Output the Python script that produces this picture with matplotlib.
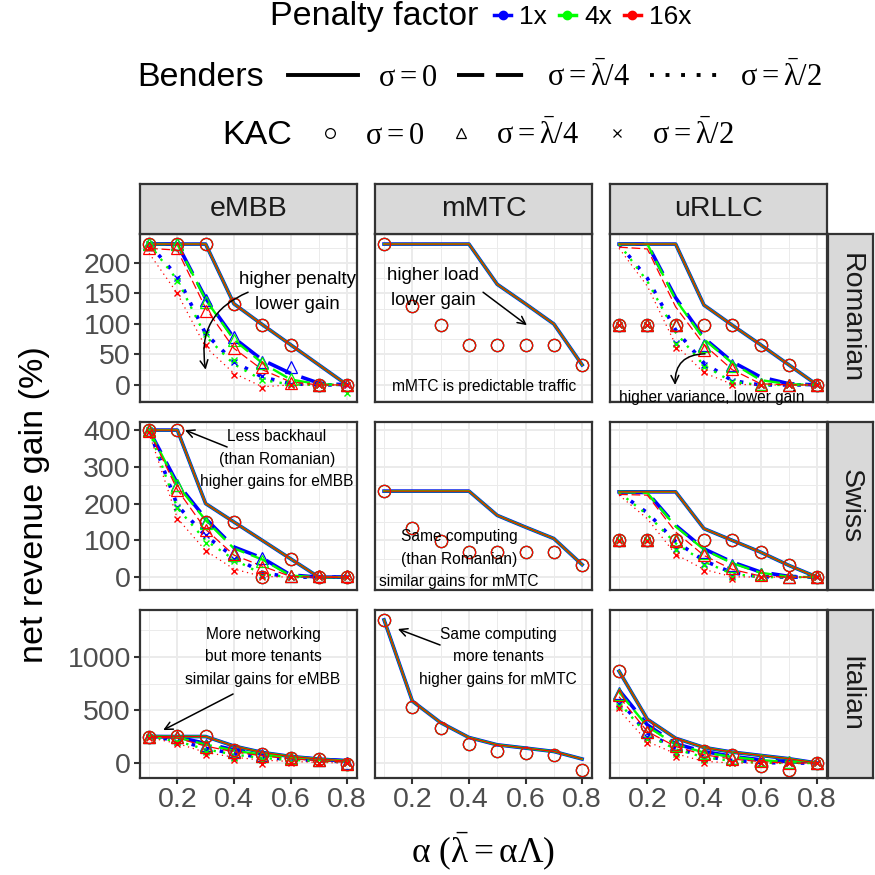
import matplotlib
matplotlib.use("Agg")
import matplotlib.pyplot as plt
from matplotlib.lines import Line2D

plt.rcParams['font.family'] = ['Liberation Sans', 'DejaVu Sans']
# upright serif math, like R plotmath
plt.rcParams['mathtext.fontset'] = 'custom'
plt.rcParams['mathtext.rm'] = 'Liberation Serif'
plt.rcParams['mathtext.it'] = 'Liberation Serif'
plt.rcParams['mathtext.bf'] = 'Liberation Serif:bold'

W, H, DPI = 875, 875, 100

# ------------------------------------------------------------------------
# Data
# ------------------------------------------------------------------------
ALPHA = [0.1, 0.2, 0.3, 0.4, 0.5, 0.6, 0.7, 0.8]
REGIONS = ['Romanian', 'Swiss', 'Italian']
SLICES = ['eMBB', 'mMTC', 'uRLLC']
PENALTIES = ['1x', '4x', '16x']

# sigma = 0 curves coincide for all penalty factors
# sigma > 0 curves: one row per penalty factor (1x, 4x, 16x)

# --- Romanian ---
ROM_EMBB_BEN0 = [231, 231, 231, 133, 99, 66, 33, 0]
ROM_EMBB_KAC0 = [231, 231, 231, 133, 99, 66, 0, 0]
ROM_EMBB_BEN4 = [[231, 231, 142, 77, 41, 19, 3, 0],
                 [231, 231, 140, 74, 36, 9, 1, 0],
                 [224, 221, 126, 60, 25, 5, 0, 0]]
ROM_EMBB_BEN2 = [[231, 178, 84, 38, 13, 2, 0, 0],
                 [231, 172, 80, 34, 8, 1, 0, 0],
                 [216, 150, 62, 19, -3, 0, 0, 0]]
ROM_EMBB_KAC4 = [[231, 231, 139, 78, 38, 29, 0, 0],
                 [231, 231, 136, 74, 36, 10, 0, 0],
                 [224, 224, 121, 61, 30, 3, 0, 0]]
ROM_EMBB_KAC2 = [[231, 176, 87, 38, 15, 1, 0, 0],
                 [231, 170, 84, 41, 8, 0, 0, -13],
                 [224, 151, 66, 16, -5, 0, 0, 0]]

ROM_MMTC_BEN0 = [231, 231, 231, 231, 165, 133, 100, 33]
ROM_MMTC_KAC0 = [231, 130, 99, 66, 66, 66, 66, 33]

ROM_URLLC_BEN0 = [231, 231, 231, 131, 98, 66, 33, 0]
ROM_URLLC_KAC0 = [98, 98, 98, 98, 98, 66, 33, 0]
ROM_URLLC_BEN4 = [[231, 231, 143, 77, 38, 13, 2, 0],
                  [231, 231, 140, 75, 36, 8, 1, 0],
                  [226, 223, 128, 66, 25, 2, 0, 0]]
ROM_URLLC_BEN2 = [[231, 175, 90, 36, 7, 0, 0, 0],
                  [231, 170, 86, 32, 5, 0, 0, 0],
                  [224, 162, 66, 20, 1, 0, 0, 0]]
ROM_URLLC_KAC4 = [[98, 98, 98, 66, 33, 2, 0, 0],
                  [98, 98, 98, 64, 31, 1, 0, 0],
                  [98, 98, 98, 58, 26, 0, 0, 0]]
ROM_URLLC_KAC2 = [[98, 98, 69, 33, 6, 0, 0, 0],
                  [98, 98, 67, 30, 5, 0, 0, 0],
                  [98, 98, 60, 22, 0, 0, 0, 0]]

# --- Swiss ---
SWI_EMBB_BEN0 = [400, 400, 200, 150, 100, 50, 0, 0]
SWI_EMBB_KAC0 = [400, 400, 150, 150, 0, 50, 0, 0]
SWI_EMBB_BEN4 = [[400, 255, 159, 82, 52, 6, 0, 0],
                 [400, 250, 155, 78, 48, 4, 0, 0],
                 [398, 238, 130, 60, 30, 2, 0, 0]]
SWI_EMBB_BEN2 = [[400, 195, 112, 55, 12, 0, 0, 0],
                 [400, 188, 100, 48, 8, 0, 0, 0],
                 [392, 160, 72, 22, 2, 0, 0, 0]]
SWI_EMBB_KAC4 = [[400, 250, 150, 66, 52, 3, 3, 3],
                 [400, 250, 148, 60, 45, 3, 3, 3],
                 [398, 236, 127, 62, 27, 2, 4, 4]]
SWI_EMBB_KAC2 = [[400, 190, 115, 50, 5, 0, 0, 0],
                 [400, 188, 93, 45, 2, 0, 0, 0],
                 [395, 157, 70, 18, 0, 0, 0, 0]]

SWI_MMTC_BEN0 = [234, 234, 234, 234, 168, 136, 105, 34]
SWI_MMTC_KAC0 = [234, 134, 98, 68, 68, 68, 68, 34]

SWI_URLLC_BEN0 = [232, 232, 232, 132, 100, 68, 32, 0]
SWI_URLLC_KAC0 = [100, 100, 100, 100, 100, 68, 32, 0]
SWI_URLLC_BEN4 = [[232, 230, 141, 77, 41, 14, 2, 0],
                  [232, 229, 138, 75, 38, 12, 1, 0],
                  [225, 223, 123, 59, 21, 3, 0, 0]]
SWI_URLLC_BEN2 = [[230, 175, 97, 45, 12, 1, 0, 0],
                  [230, 170, 92, 42, 9, 0, 0, 0],
                  [223, 159, 62, 21, 1, 0, 0, 0]]
SWI_URLLC_KAC4 = [[100, 100, 100, 68, 32, 9, 0, 0],
                  [100, 100, 100, 66, 30, 8, 0, 0],
                  [100, 100, 97, 61, 25, 5, 0, 0]]
SWI_URLLC_KAC2 = [[100, 100, 77, 36, 2, 0, 0, 0],
                  [100, 100, 74, 33, 0, 0, 0, 0],
                  [97, 97, 59, 18, -4, 0, 0, 0]]

# --- Italian ---
ITA_EMBB_BEN0 = [250, 250, 250, 160, 100, 62, 38, 20]
ITA_EMBB_KAC0 = [250, 256, 256, 120, 90, 50, 35, -5]
ITA_EMBB_BEN4 = [[250, 245, 185, 125, 85, 55, 35, 22],
                 [250, 240, 175, 118, 78, 48, 30, 15],
                 [245, 235, 160, 105, 68, 40, 22, 8]]
ITA_EMBB_BEN2 = [[250, 215, 140, 88, 55, 35, 22, 12],
                 [250, 205, 130, 80, 48, 30, 18, 8],
                 [240, 185, 100, 55, 28, 15, 6, 0]]
ITA_EMBB_KAC4 = [[250, 250, 170, 112, 72, 50, 32, -3],
                 [250, 248, 165, 108, 68, 47, 30, -5],
                 [245, 245, 150, 100, 62, 42, 26, -6]]
ITA_EMBB_KAC2 = [[250, 200, 110, 55, 30, 10, 5, 0],
                 [250, 195, 105, 50, 25, 8, 3, 0],
                 [240, 181, 78, 25, -6, 0, 0, 0]]

ITA_MMTC_BEN0 = [1350, 584, 381, 241, 172, 141, 109, 38]
ITA_MMTC_KAC0 = [1350, 525, 328, 178, 116, 94, 72, -69]

ITA_URLLC_BEN0 = [866, 413, 234, 147, 103, 72, 41, 0]
ITA_URLLC_KAC0 = [866, 350, 181, 109, 72, -31, -69, 0]
ITA_URLLC_BEN4 = [[688, 360, 181, 109, 63, 31, 13, 0],
                  [670, 345, 175, 100, 58, 28, 10, 0],
                  [625, 297, 156, 78, 38, 13, 0, 0]]
ITA_URLLC_BEN2 = [[594, 281, 141, 63, 25, 5, 0, 0],
                  [570, 265, 130, 55, 20, 3, 0, 0],
                  [500, 203, 88, 16, 0, 0, 0, 0]]
ITA_URLLC_KAC4 = [[656, 305, 178, 98, 50, 26, 6, 0],
                  [650, 297, 172, 94, 47, 25, 6, 0],
                  [640, 290, 165, 88, 42, 20, 4, 0]]
ITA_URLLC_KAC2 = [[560, 250, 100, 35, 10, 0, 0, 0],
                  [540, 230, 85, 25, 5, 0, 0, 0],
                  [516, 188, 56, 5, 0, 0, 0, 0]]

# panel lookup: (ben0, kac0, ben4, ben2, kac4, kac2)
PANELS = {
    ('Romanian', 'eMBB'): (ROM_EMBB_BEN0, ROM_EMBB_KAC0, ROM_EMBB_BEN4, ROM_EMBB_BEN2, ROM_EMBB_KAC4, ROM_EMBB_KAC2),
    ('Romanian', 'mMTC'): (ROM_MMTC_BEN0, ROM_MMTC_KAC0, None, None, None, None),
    ('Romanian', 'uRLLC'): (ROM_URLLC_BEN0, ROM_URLLC_KAC0, ROM_URLLC_BEN4, ROM_URLLC_BEN2, ROM_URLLC_KAC4, ROM_URLLC_KAC2),
    ('Swiss', 'eMBB'): (SWI_EMBB_BEN0, SWI_EMBB_KAC0, SWI_EMBB_BEN4, SWI_EMBB_BEN2, SWI_EMBB_KAC4, SWI_EMBB_KAC2),
    ('Swiss', 'mMTC'): (SWI_MMTC_BEN0, SWI_MMTC_KAC0, None, None, None, None),
    ('Swiss', 'uRLLC'): (SWI_URLLC_BEN0, SWI_URLLC_KAC0, SWI_URLLC_BEN4, SWI_URLLC_BEN2, SWI_URLLC_KAC4, SWI_URLLC_KAC2),
    ('Italian', 'eMBB'): (ITA_EMBB_BEN0, ITA_EMBB_KAC0, ITA_EMBB_BEN4, ITA_EMBB_BEN2, ITA_EMBB_KAC4, ITA_EMBB_KAC2),
    ('Italian', 'mMTC'): (ITA_MMTC_BEN0, ITA_MMTC_KAC0, None, None, None, None),
    ('Italian', 'uRLLC'): (ITA_URLLC_BEN0, ITA_URLLC_KAC0, ITA_URLLC_BEN4, ITA_URLLC_BEN2, ITA_URLLC_KAC4, ITA_URLLC_KAC2),
}

# ------------------------------------------------------------------------
# Styling / layout
# ------------------------------------------------------------------------
PEN_COLORS = ['#0000FF', '#00FF00', '#FF0000']
PEN_LW = [2.6, 1.7, 0.9]
DASHED = (0, (7, 3))
DOTTED = (0, (1, 3))

Y_TICKS = {'Romanian': [0, 50, 100, 150, 200],
           'Swiss': [0, 100, 200, 300, 400],
           'Italian': [0, 500, 1000]}
Y_MINOR = {'Romanian': [-25, 25, 75, 125, 175, 225],
           'Swiss': [50, 150, 250, 350],
           'Italian': [250, 750, 1250]}
Y_LIM = {'Romanian': (-28, 247.5), 'Swiss': (-35, 422), 'Italian': (-141, 1443)}
X_LIM = (0.068, 0.835)

COL_LEFT = [140, 375, 610]
PANEL_W = 217
ROW_TOP = [234, 422, 610]
PANEL_H = 168
STRIP_TOP, STRIP_H = 184, 50
STRIP_LEFT, STRIP_W = 828, 45

BORDER = '#333333'
GRID = '#EBEBEB'
STRIP_FILL = '#D9D9D9'
TICK_TXT = '#4D4D4D'
TICK_FS = 20.5
STRIP_FS = 20.5
TITLE_FS = 24.5
NOTE_BIG = 13.4
NOTE_SMALL = 11.2
NOTE_SPACING = 1.63
LEG_FS = 22

# annotations: (region, slice) -> list of (text, x, y, size)
NOTES = {
    ('Romanian', 'eMBB'): [('higher penalty\nlower gain', 0.623, 152, NOTE_BIG)],
    ('Romanian', 'mMTC'): [('higher load\nlower gain', 0.273, 159, NOTE_BIG),
                           ('mMTC is predictable traffic', 0.453, -2, NOTE_SMALL)],
    ('Romanian', 'uRLLC'): [('higher variance, lower gain', 0.429, -20, NOTE_SMALL)],
    ('Swiss', 'eMBB'): [('Less backhaul\n(than Romanian)\nhigher gains for eMBB', 0.552, 321, NOTE_SMALL)],
    ('Swiss', 'mMTC'): [('Same computing\n(than Romanian)\nsimilar gains for mMTC', 0.365, 49, NOTE_SMALL)],
    ('Italian', 'eMBB'): [('More networking\nbut more tenants\nsimilar gains for eMBB', 0.503, 1000, NOTE_SMALL)],
    ('Italian', 'mMTC'): [('Same computing\nmore tenants\nhigher gains for mMTC', 0.503, 1000, NOTE_SMALL)],
}
# arrows: (region, slice) -> list of (x_from, y_from, x_to, y_to, rad)
ARROWS = {
    ('Romanian', 'eMBB'): [(0.45, 152, 0.30, 25, 0.4)],
    ('Romanian', 'mMTC'): [(0.45, 152, 0.605, 98, 0.0)],
    ('Romanian', 'uRLLC'): [(0.404, 51, 0.298, 0, 0.5)],
    ('Swiss', 'eMBB'): [(0.376, 354, 0.227, 400, 0.0)],
    ('Italian', 'eMBB'): [(0.397, 651, 0.15, 311, 0.0)],
    ('Italian', 'mMTC'): [(0.298, 1113, 0.149, 1264, 0.0)],
}


def box(left, top, width, height):
    return [left / W, 1 - (top + height) / H, width / W, height / H]


def draw_panel(ax, series):
    ben0, kac0, ben4, ben2, kac4, kac2 = series
    # Benders lines
    for i, c in enumerate(PEN_COLORS):
        ax.plot(ALPHA, ben0, color=c, lw=PEN_LW[i], ls='-')
        if ben4 is not None:
            ax.plot(ALPHA, ben4[i], color=c, lw=PEN_LW[i], ls=DASHED)
            ax.plot(ALPHA, ben2[i], color=c, lw=PEN_LW[i], ls=DOTTED)
    # KAC points
    for i, c in enumerate(PEN_COLORS):
        ax.plot(ALPHA, kac0, ls='none', marker='o', ms=8.8, mfc='none', mec=c, mew=0.9)
        if kac4 is not None:
            ax.plot(ALPHA, kac4[i], ls='none', marker='^', ms=9.0, mfc='none', mec=c, mew=0.9)
            ax.plot(ALPHA, kac2[i], ls='none', marker='x', ms=4.2, mec=c, mew=1.0)


fig = plt.figure(figsize=(W / DPI, H / DPI), dpi=DPI)

for r, region in enumerate(REGIONS):
    for c, sl in enumerate(SLICES):
        ax = fig.add_axes(box(COL_LEFT[c], ROW_TOP[r], PANEL_W, PANEL_H))
        draw_panel(ax, PANELS[(region, sl)])
        ax.set_xlim(*X_LIM)
        ax.set_ylim(*Y_LIM[region])
        ax.set_xticks([0.2, 0.4, 0.6, 0.8])
        ax.set_xticks([0.1, 0.3, 0.5, 0.7], minor=True)
        ax.set_yticks(Y_TICKS[region])
        ax.set_yticks(Y_MINOR[region], minor=True)
        ax.grid(which='major', color=GRID, lw=1.4)
        ax.grid(which='minor', color=GRID, lw=0.7)
        ax.set_axisbelow(True)
        for sp in ax.spines.values():
            sp.set_color(BORDER)
            sp.set_linewidth(1.6)
        ax.tick_params(which='minor', length=0)
        ax.tick_params(which='major', length=4.5, width=1.5, color=BORDER,
                       labelcolor=TICK_TXT, labelsize=TICK_FS, pad=2)
        if c > 0:
            ax.tick_params(axis='y', which='major', length=0, labelleft=False)
        if r < len(REGIONS) - 1:
            ax.tick_params(axis='x', which='major', length=0, labelbottom=False)

        for txt, tx, ty, fs in NOTES.get((region, sl), []):
            ax.text(tx, ty, txt, ha='center', va='center', fontsize=fs,
                    color='black', linespacing=NOTE_SPACING)
        for x0, y0, x1, y1, rad in ARROWS.get((region, sl), []):
            ax.annotate('', xy=(x1, y1), xytext=(x0, y0),
                        arrowprops=dict(arrowstyle='->', color='black', lw=1.1,
                                        mutation_scale=14, shrinkA=0, shrinkB=0,
                                        connectionstyle=f'arc3,rad={rad}'))

# strips
for c, sl in enumerate(SLICES):
    sax = fig.add_axes(box(COL_LEFT[c], STRIP_TOP, PANEL_W, STRIP_H))
    sax.set_facecolor(STRIP_FILL)
    sax.set_xticks([])
    sax.set_yticks([])
    for sp in sax.spines.values():
        sp.set_color(BORDER)
        sp.set_linewidth(1.6)
    sax.text(0.5, 0.5, sl, ha='center', va='center', fontsize=STRIP_FS,
             color='#1A1A1A', transform=sax.transAxes)

for r, region in enumerate(REGIONS):
    sax = fig.add_axes(box(STRIP_LEFT, ROW_TOP[r], STRIP_W, PANEL_H))
    sax.set_facecolor(STRIP_FILL)
    sax.set_xticks([])
    sax.set_yticks([])
    for sp in sax.spines.values():
        sp.set_color(BORDER)
        sp.set_linewidth(1.6)
    sax.text(0.5, 0.5, region, ha='center', va='center', fontsize=STRIP_FS,
             color='#1A1A1A', rotation=-90, transform=sax.transAxes)

# axis titles
fig.text(35 / W, 1 - 505 / H, 'net revenue gain (%)', rotation=90,
         ha='center', va='center', fontsize=TITLE_FS)
fig.text(483 / W, 1 - 852 / H, r'$\alpha\ (\bar{\lambda} = \alpha\Lambda)$',
         ha='center', va='center', fontsize=25.5)

# legends
leg_kw = dict(frameon=False, loc='center left', borderpad=0, borderaxespad=0)

fig.text(270 / W, 1 - 17 / H, 'Penalty factor', ha='left', va='center', fontsize=TITLE_FS)
pen_handles = [Line2D([], [], color=col, lw=2.5, marker='o', ms=6) for col in PEN_COLORS]
fig.legend(pen_handles, PENALTIES, bbox_to_anchor=(494 / W, 1 - 17 / H), ncol=3,
           fontsize=19, handlelength=0.65, handletextpad=0.3, columnspacing=0.45, **leg_kw)

sigma_labels = [r'$\sigma = 0$', r'$\sigma = \bar{\lambda}/4$', r'$\sigma = \bar{\lambda}/2$']

fig.text(137 / W, 1 - 77 / H, 'Benders', ha='left', va='center', fontsize=TITLE_FS)
ben_handles = [Line2D([], [], color='black', lw=2.8, ls='-'),
               Line2D([], [], color='black', lw=2.8, ls=DASHED),
               Line2D([], [], color='black', lw=2.8, ls=DOTTED)]
fig.legend(ben_handles, sigma_labels, bbox_to_anchor=(288 / W, 1 - 77 / H), ncol=3,
           fontsize=LEG_FS, handlelength=2.3, handletextpad=0.65, columnspacing=0.65, **leg_kw)

fig.text(222 / W, 1 - 135 / H, 'KAC', ha='left', va='center', fontsize=TITLE_FS)
kac_handles = [Line2D([], [], color='black', ls='none', marker='o', ms=7, mfc='none', mew=0.9),
               Line2D([], [], color='black', ls='none', marker='^', ms=7.5, mfc='none', mew=0.9),
               Line2D([], [], color='black', ls='none', marker='x', ms=5.5, mew=0.9)]
fig.legend(kac_handles, sigma_labels, bbox_to_anchor=(316 / W, 1 - 135 / H), ncol=3,
           fontsize=LEG_FS, handlelength=0.92, handletextpad=0.69, columnspacing=0.75, **leg_kw)

fig.savefig('out.png', dpi=DPI)
